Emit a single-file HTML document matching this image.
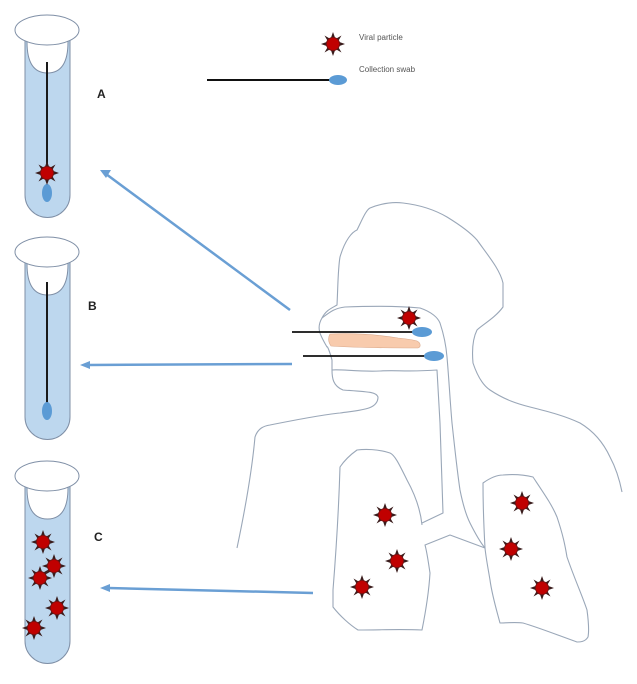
<!DOCTYPE html>
<html><head><meta charset="utf-8"><style>
html,body{margin:0;padding:0;background:#fff;width:637px;height:684px;overflow:hidden}
svg{display:block}
text{font-family:"Liberation Sans",sans-serif}
</style></head><body>
<svg width="637" height="684" viewBox="0 0 637 684" xmlns="http://www.w3.org/2000/svg">
<defs>
<g id="v">
<polygon points="0,-12 2.5,-5 8.5,-8.5 5,-2.5 12,0 5,2.5 8.5,8.5 2.5,5 0,12 -2.5,5 -8.5,8.5 -5,2.5 -12,0 -5,-2.5 -8.5,-8.5 -2.5,-5" fill="#3a1c1c"/>
<circle r="6.5" fill="#c00000" stroke="#7a1010" stroke-width="1"/>
</g>
<g id="tube">
<path d="M25,5 L25,-5 L70,-5 L70,5 L70,165 A22.5,22.5 0 0 1 25,165 Z" fill="#bdd7ee" stroke="#7f8fa6" stroke-width="1"/>
<path d="M27,0 L68,0 L68,12 Q68,43 47.5,43 Q27,43 27,12 Z" fill="#fff" stroke="#7f8fa6" stroke-width="1"/>
<ellipse cx="47" cy="0" rx="32" ry="15" fill="#fff" stroke="#7f8fa6" stroke-width="1"/>
</g>
</defs>

<use href="#tube" x="0" y="30"/>
<line x1="47" y1="62" x2="47" y2="180" stroke="#1a1a1a" stroke-width="2"/>
<ellipse cx="47" cy="193" rx="5" ry="9" fill="#5b9bd5"/>
<use href="#v" x="47" y="173"/>

<use href="#tube" x="0" y="252"/>
<line x1="47" y1="282" x2="47" y2="404" stroke="#1a1a1a" stroke-width="2"/>
<ellipse cx="47" cy="411" rx="5" ry="9" fill="#5b9bd5"/>

<use href="#tube" x="0" y="476"/>
<use href="#v" x="43" y="542"/>
<use href="#v" x="54" y="566"/>
<use href="#v" x="40" y="578"/>
<use href="#v" x="57" y="608"/>
<use href="#v" x="34" y="628"/>

<text x="97" y="98" font-size="12" font-weight="bold" fill="#222">A</text>
<text x="88" y="310" font-size="12" font-weight="bold" fill="#222">B</text>
<text x="94" y="541" font-size="12" font-weight="bold" fill="#222">C</text>

<use href="#v" x="333" y="44"/>
<text x="359" y="40" font-size="8" fill="#555">Viral particle</text>
<line x1="207" y1="80" x2="333" y2="80" stroke="#111" stroke-width="2"/>
<ellipse cx="338" cy="80" rx="9" ry="5" fill="#5b9bd5"/>
<text x="359" y="72" font-size="8" fill="#555">Collection swab</text>

<g stroke="#6a9fd4" stroke-width="2.5" fill="#6a9fd4">
<line x1="290" y1="310" x2="106" y2="174"/>
<line x1="292" y1="364" x2="88" y2="365"/>
<line x1="313" y1="593" x2="108" y2="588"/>
</g>
<g fill="#6a9fd4">
<polygon points="100,170 111,170 106,178"/>
<polygon points="80,365 90,361 90,369"/>
<polygon points="100,588 110,584 110,592"/>
</g>

<g fill="none" stroke="#9aa7b8" stroke-width="1.1" stroke-linejoin="round">
<path d="M237,548 C245,510 252,470 255,437 C258,428 264,426 270,425 C295,420 320,415 340,413 C360,410 378,410 378,397 C376,392 370,392 343,390 C333,386 332,378 332,370 L332,360 C330,352 327,345 327,347 C320,335 316,328 322,318 C326,310 332,308 337,305 C338,285 338,268 340,257 C345,240 352,232 357,230 C362,220 366,210 370,208 C385,202 395,202 403,203 C420,205 435,210 447,217 C460,225 470,232 477,240 C490,258 500,270 503,283 L503,307 C495,318 482,325 477,330 C472,340 472,352 473,363 C478,378 484,386 490,390 C505,400 518,404 530,407 C550,412 565,416 580,423 C595,432 604,444 610,457 C617,470 620,482 622,492"/>
<path d="M322,318 C330,312 335,308 345,307 C370,306 400,306 420,308 C432,312 438,318 440,323 C444,335 446,345 447,357 C449,380 450,400 452,423 C455,450 457,470 460,490 C463,505 466,515 470,523 C476,535 480,542 485,548"/>
<path d="M332,370 C340,369 360,372 380,371 C395,370 410,372 437,370 L440,423 C441,460 442,490 443,513 L422,523"/>
<path d="M422,525 C421,515 418,500 407,480 C400,466 395,455 390,453 C378,449 365,449 357,450 C350,455 344,461 340,467 C339,500 337,540 333,590 C333,600 333,604 333,607 C340,616 350,625 358,630 C380,630 400,629 422,630 C426,610 429,590 430,573 C428,560 427,552 425,545 L450,535 L485,548"/>
<path d="M485,548 C484,530 483,500 483,483 C490,478 497,475 503,475 C515,474 525,475 533,477 C545,495 552,505 557,517 C563,535 565,545 567,557 C575,580 582,595 587,610 C589,625 589,632 588,637 C585,642 580,642 577,642 C560,636 540,628 523,623 C515,622 505,623 500,623 C496,608 492,595 490,580 C488,568 486,558 485,548"/>
</g>

<path d="M330,334 C355,333 380,335 398,338 C408,339 414,340 417,341 C421,343 421,347 418,348 C395,348 360,348 331,346 C328,342 328,337 330,334 Z" fill="#f8cbad" stroke="#d9a98c" stroke-width="0.6"/>

<line x1="292" y1="332" x2="413" y2="332" stroke="#111" stroke-width="1.8"/>
<ellipse cx="422" cy="332" rx="10" ry="5" fill="#5b9bd5"/>
<line x1="303" y1="356" x2="425" y2="356" stroke="#111" stroke-width="1.8"/>
<ellipse cx="434" cy="356" rx="10" ry="5" fill="#5b9bd5"/>

<use href="#v" x="409" y="318"/>
<use href="#v" x="385" y="515"/>
<use href="#v" x="397" y="561"/>
<use href="#v" x="362" y="587"/>
<use href="#v" x="522" y="503"/>
<use href="#v" x="511" y="549"/>
<use href="#v" x="542" y="588"/>
</svg>
</body></html>
